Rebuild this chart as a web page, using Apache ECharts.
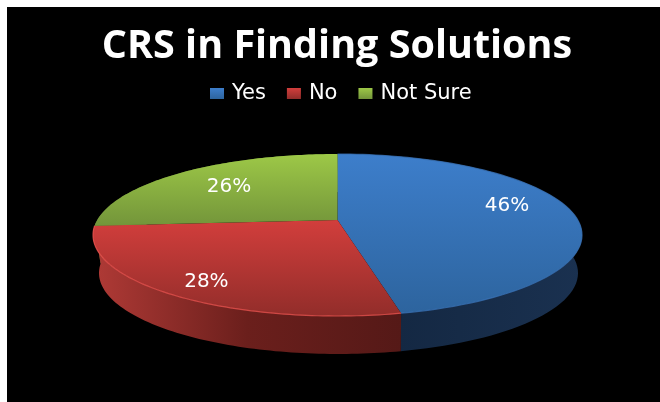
<!DOCTYPE html>
<html>
<head>
<meta charset="utf-8">
<script src="https://cdn.jsdelivr.net/npm/echarts@6/dist/echarts.min.js"></script>
<style>
html, body { margin: 0; padding: 0; background: #fff; }
#main { width: 660px; height: 402px; }
</style>
</head>
<body>
<div id="main"></div>
<script>
var categories = ['Yes', 'No', 'Not Sure'];
var percents = [46, 28, 26];

// top face colours (upper, lower) and side wall colours (left, middle, right)
var topColors = [['#3d7ecb', '#2d649e'], ['#d23e3c', '#922d2a'], ['#9dc847', '#73953a']];
var wallColors = [['#12253f', '#162b47', '#1a3150'], ['#b03a36', '#6b1f1c', '#551917'], ['#4f6a28', '#4f6a28', '#4f6a28']];
var rimColors = ['#3a72b5', '#e8524f', '#9dc847'];
// label shift from the radial spot
var labelShift = [[12, -7], [-28, 8], [-11, 1]];

// the disc is drawn in perspective, the apex sits above the ellipse centre
var cx = 337.5, cy = 235, rx = 244.5, ry = 81;
var apexY = 220, rayY = 92, depth = 38, bottomCx = 338.5, bottomRx = 239.5;

var total = percents.reduce(function (a, b) { return a + b; }, 0);

function edgePoint(angle) {
	// where a ray from the apex meets the ellipse
	var dx = Math.sin(angle) * rx;
	var dy = -Math.cos(angle) * rayY;
	var oy = apexY - cy;
	var a = dx * dx / (rx * rx) + dy * dy / (ry * ry);
	var b = 2 * oy * dy / (ry * ry);
	var c = oy * oy / (ry * ry) - 1;
	var t = (-b + Math.sqrt(b * b - 4 * a * c)) / (2 * a);
	return [cx + dx * t, apexY + dy * t];
}

function renderSlice(params, api) {
	var index = params.seriesIndex;
	var before = 0;
	for (var i = 0; i < index; i++) {
		before += percents[i];
	}
	var start = before / total * Math.PI * 2;
	var end = (before + api.value(0)) / total * Math.PI * 2;

	var arc = [];
	var steps = 80;
	for (var s = 0; s <= steps; s++) {
		arc.push(edgePoint(start + (end - start) * s / steps));
	}
	var lower = arc.map(function (p) {
		return [bottomCx + (p[0] - cx) * bottomRx / rx, p[1] + depth];
	}).reverse();

	var xs = arc.map(function (p) { return p[0]; });
	var ys = arc.map(function (p) { return p[1]; }).concat([apexY]);
	var minX = Math.min.apply(null, xs), maxX = Math.max.apply(null, xs);
	var minY = Math.min.apply(null, ys), maxY = Math.max.apply(null, ys);

	var mid = edgePoint((start + end) / 2);
	var labelX = cx + (mid[0] - cx) * 0.68 + labelShift[index][0];
	var labelY = apexY + (mid[1] - apexY) * 0.68 + labelShift[index][1];

	return {
		type: 'group',
		children: [
			{
				type: 'polygon',
				z2: index === 2 ? 0 : 1,
				shape: { points: arc.concat(lower) },
				style: {
					fill: new echarts.graphic.LinearGradient(minX, 0, maxX, 0, [
						{ offset: 0, color: wallColors[index][0] },
						{ offset: 0.5, color: wallColors[index][1] },
						{ offset: 1, color: wallColors[index][2] }
					], true)
				}
			},
			{
				type: 'polygon',
				z2: 5,
				shape: { points: arc.concat([[cx, apexY]]) },
				style: {
					fill: new echarts.graphic.LinearGradient(0, minY, 0, maxY, [
						{ offset: 0, color: topColors[index][0] },
						{ offset: 1, color: topColors[index][1] }
					], true)
				}
			},
			{
				type: 'polyline',
				z2: 6,
				shape: { points: arc },
				style: { fill: null, stroke: rimColors[index], lineWidth: 1.2, opacity: index === 2 ? 0 : 0.8 }
			},
			{
				type: 'text',
				z2: 10,
				style: {
					text: api.value(0) + '%',
					x: labelX,
					y: labelY,
					fill: '#fff',
					font: '20px "DejaVu Sans"',
					align: 'center',
					verticalAlign: 'middle'
				}
			}
		]
	};
}

var series = [];
for (var i = 0; i < categories.length; i++) {
	series.push({
		name: categories[i],
		type: 'custom',
		coordinateSystem: 'none',
		silent: true,
		renderItem: renderSlice,
		data: [[percents[i]]],
		itemStyle: {
			color: new echarts.graphic.LinearGradient(0, 0, 0, 1, [
				{ offset: 0, color: topColors[i][0] },
				{ offset: 1, color: topColors[i][1] }
			])
		}
	});
}

var myChart = echarts.init(document.getElementById('main'), null, { renderer: 'canvas' });
myChart.setOption({
	animation: false,
	backgroundColor: '#fff',
	graphic: [{
		type: 'rect',
		z: -10,
		shape: { x: 7, y: 7, width: 653, height: 395 },
		style: { fill: '#000' }
	}],
	title: {
		text: 'CRS in Finding Solutions',
		left: 332,
		top: 22,
		textAlign: 'center',
		textStyle: { color: '#fff', fontFamily: 'Open Sans', fontWeight: 'bold', fontSize: 39.5 }
	},
	legend: {
		data: categories,
		left: 205,
		top: 78,
		icon: 'rect',
		itemWidth: 14,
		itemHeight: 11,
		itemGap: 21,
		textStyle: { color: '#fff', fontFamily: 'DejaVu Sans', fontSize: 21, padding: [0, 0, 0, 3] }
	},
	series: series
});
</script>
</body>
</html>
